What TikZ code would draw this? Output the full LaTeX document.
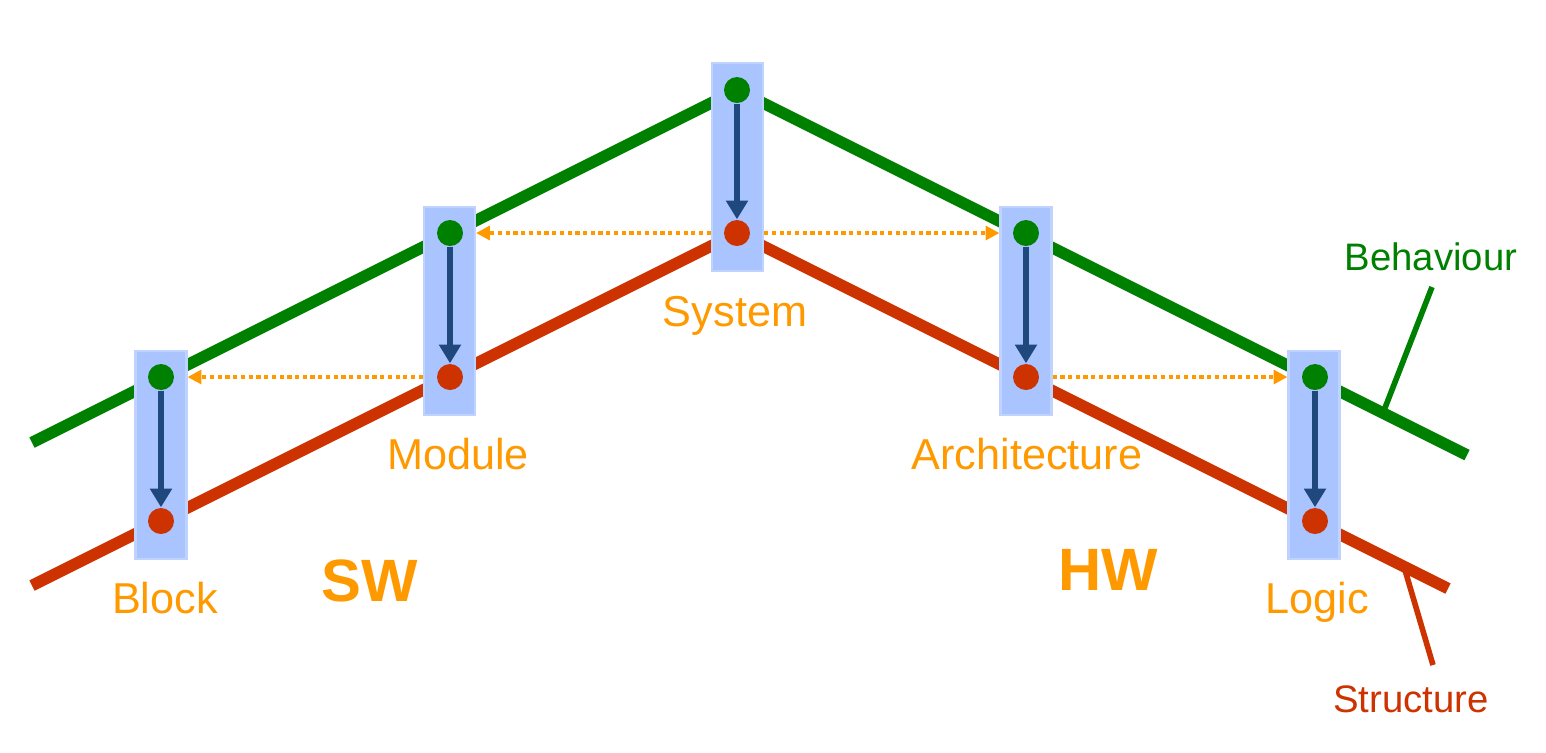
\documentclass[tikz,border=0pt]{standalone}
\usepackage{fontspec}
\setmainfont{Liberation Sans}
\usetikzlibrary{arrows.meta}
\definecolor{behgreen}{HTML}{008000}
\definecolor{strred}{HTML}{CC3300}
\definecolor{lvlorange}{HTML}{FF9900}
\definecolor{boxblue}{HTML}{AAC4FF}
\definecolor{boxedge}{HTML}{C0D3FF}
\definecolor{arrowblue}{HTML}{1F497D}
\begin{document}
\begin{tikzpicture}[
    stage/.style={fill=boxblue, draw=boxedge, line width=0.6pt, minimum width=5.1mm, minimum height=20.8mm, inner sep=0pt},
    beh/.style={circle, fill=behgreen, minimum size=2.6mm, inner sep=0pt},
    strc/.style={circle, fill=strred, minimum size=2.6mm, inner sep=0pt},
    lvl/.style={text=lvlorange, anchor=base, font=\fontsize{12.3}{14}\selectfont},
    swhw/.style={text=lvlorange, anchor=base, font=\bfseries\fontsize{17}{20}\selectfont},
    refine/.style={draw=arrowblue, line width=1.7pt, -{Triangle[length=5.3pt, width=6pt]}},
    mapping/.style={draw=lvlorange, line width=1.3pt, dash pattern=on 1.2pt off 1pt, -{Triangle[length=3.9pt, width=3.9pt]}},
    track/.style={line width=3.3pt},
    callout/.style={line width=1.6pt},
  ]
  \useasboundingbox (0,0) rectangle (15.46,-7.52);
  \draw[track, behgreen] (0.32,-4.425) -- (7.37,-0.90) -- (14.67,-4.55);
  \draw[track, strred] (0.32,-5.855) -- (7.37,-2.33) -- (14.48,-5.885);
  \draw
    (7.375,-1.67) node[stage] (sysbox){}
    (4.495,-3.11) node[stage] (modbox){}
    (1.61,-4.55) node[stage] (blkbox){}
    (10.26,-3.11) node[stage] (arcbox){}
    (13.14,-4.55) node[stage] (logbox){};
  \draw
    (7.37,-0.90) node[beh] (sysB){}
    (7.37,-2.33) node[strc] (sysS){}
    (4.50,-2.33) node[beh] (modB){}
    (4.50,-3.77) node[strc] (modS){}
    (1.61,-3.77) node[beh] (blkB){}
    (1.61,-5.21) node[strc] (blkS){}
    (10.26,-2.33) node[beh] (arcB){}
    (10.26,-3.77) node[strc] (arcS){}
    (13.15,-3.77) node[beh] (logB){}
    (13.15,-5.21) node[strc] (logS){};
  \begin{scope}[refine]
    \draw (sysB) to (sysS);
    \draw (modB) to (modS);
    \draw (blkB) to (blkS);
    \draw (arcB) to (arcS);
    \draw (logB) to (logS);
  \end{scope}
  \begin{scope}[mapping]
    \draw (sysS -| sysbox.west) to (modB -| modbox.east);
    \draw (sysS -| sysbox.east) to (arcB -| arcbox.west);
    \draw (modS -| modbox.west) to (blkB -| blkbox.east);
    \draw (arcS -| arcbox.east) to (logB -| logbox.west);
  \end{scope}
  \draw
    (7.35,-3.26) node[lvl] (sysL){System}
    (4.58,-4.69) node[lvl] (modL){Module}
    (1.65,-6.13) node[lvl] (blkL){Block}
    (10.27,-4.69) node[lvl] (arcL){Architecture}
    (13.17,-6.13) node[lvl] (logL){Logic}
    (3.70,-6.01) node[swhw] (swL){SW}
    (11.08,-5.90) node[swhw] (hwL){HW}
    (14.31,-2.70) node[anchor=base, text=behgreen, font=\fontsize{10.9}{13}\selectfont] (behL){Behaviour}
    (14.11,-7.12) node[anchor=base, text=strred, font=\fontsize{10.9}{13}\selectfont] (strL){Structure};
  \coordinate (behtop) at (14.32,-2.87);
  \coordinate (behfoot) at (13.83,-4.13);
  \coordinate (strbot) at (14.33,-6.65);
  \coordinate (strfoot) at (14.05,-5.70);
  \draw[callout, behgreen] (behtop) -- (behfoot);
  \draw[callout, strred] (strbot) -- (strfoot);
\end{tikzpicture}
\end{document}
